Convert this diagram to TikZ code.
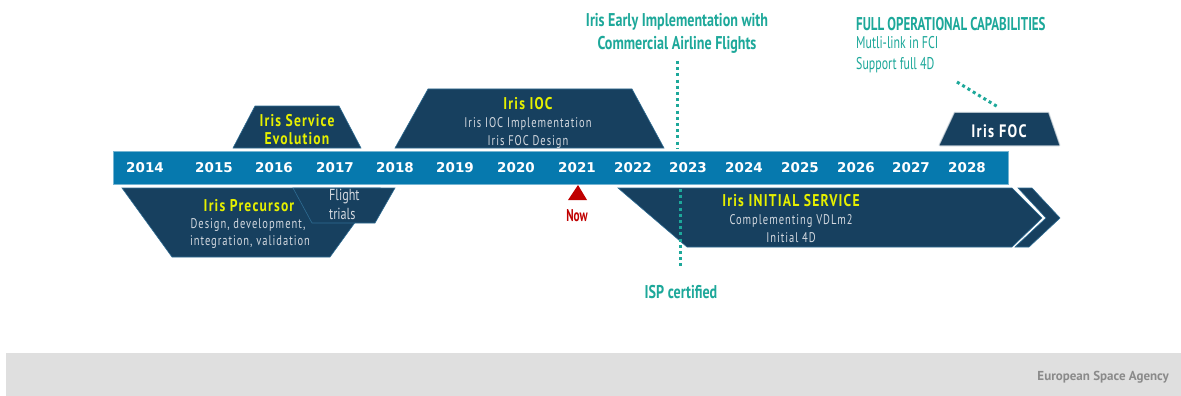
\documentclass[tikz,border=0pt]{standalone}
\usepackage{fontspec}
\setmainfont{DejaVu Sans}
% condensed families at a few widths
\newfontfamily\cond[FakeStretch=0.66]{PT Sans}
\newfontfamily\fTitle[FakeStretch=0.8, LetterSpace=7]{PT Sans}
\newfontfamily\fSub[FakeStretch=0.75, LetterSpace=7]{PT Sans}
\newfontfamily\fWide[FakeStretch=0.76]{PT Sans}
\newfontfamily\fNarrow[FakeStretch=0.7]{PT Sans}
\newfontfamily\fBand{PT Sans}
\usetikzlibrary{calc}

\definecolor{phase}{HTML}{17405F}
\definecolor{phaseedge}{HTML}{2F6D93}
\definecolor{barblue}{HTML}{0679AE}
\definecolor{esateal}{HTML}{1DA89A}
\definecolor{hilite}{HTML}{E6F000}
\definecolor{subtext}{HTML}{D4D9E0}
\definecolor{nowred}{HTML}{C00000}
\definecolor{band}{HTML}{DFDFDF}
\definecolor{bandtext}{HTML}{8A8A8A}

\tikzset{
  phasebox/.style={fill=phase, draw=phaseedge, line width=0.6pt, line join=miter},
  year/.style={text=white, font=\bfseries\fontsize{13.5}{14}\selectfont, inner sep=0pt},
  phasetitle/.style={text=hilite, font=\fTitle\bfseries\fontsize{17}{18}\selectfont, inner sep=0pt, align=center},
  phasetext/.style={text=subtext, font=\fSub\fontsize{14}{17}\selectfont, inner sep=0pt, align=center},
  tealtitle/.style={text=esateal, font=\fWide\bfseries\fontsize{18.5}{23}\selectfont, inner sep=0pt, align=center},
  tealhead/.style={text=esateal, font=\fNarrow\bfseries\fontsize{18.5}{23}\selectfont, inner sep=0pt},
  tealtext/.style={text=esateal, font=\fNarrow\fontsize{17}{21}\selectfont, inner sep=0pt, align=left},
  marker/.style={draw=esateal, line width=3pt, dash pattern=on 3pt off 3.2pt},
}

\begin{document}
\begin{tikzpicture}[x=1pt, y=-1pt]
  \useasboundingbox (0,0) rectangle (1181,396);
  \fill[white] (0,0) rectangle (1181,396);

  % footer band
  \fill[band] (6,353) rectangle (1181,396);
  \node[text=bandtext, font=\fBand\bfseries\fontsize{13}{15}\selectfont, anchor=east, inner sep=0pt]
    (esa) at (1169,377) {European Space Agency};

  % phases above the time bar
  \path[phasebox] (233,148) -- (255,106) -- (339,106) -- (361,148) -- cycle;
  \node[phasetitle] (evol) at (297,130) {Iris Service\\Evolution};

  \path[phasebox] (395,148) -- (428,89) -- (632,89) -- (664,148) -- cycle;
  \node[phasetitle] (ioc) at (528,104) {Iris IOC};
  \node[phasetext] (iocA) at (528,124) {Iris IOC Implementation};
  \node[phasetext] (iocB) at (528,142) {Iris FOC Design};

  % soft-edged FOC block
  \foreach \g/\o in {3/0.10,2/0.18,1/0.3}{
    \path[fill=phase, opacity=\o, draw=phase, line width=\g pt, line join=round]
      (940,145) -- (955,113) -- (1048,113) -- (1059,145) -- cycle;
  }
  \path[fill=phase] (940,145) -- (955,113) -- (1048,113) -- (1059,145) -- cycle;
  \node[text=white, font=\fTitle\bfseries\fontsize{18}{19}\selectfont, inner sep=0pt] (foc) at (999,131) {Iris\ FOC};

  % time bar
  \path[fill=barblue, draw=barblue!55!white, line width=0.6pt] (113,151) rectangle (1008,184);
  \foreach \yr/\xx in {2014/145,2015/214,2016/274,2017/335,2018/395,2019/455,2020/516,
                       2021/577,2022/633,2023/688,2024/744,2025/800,2026/856,2027/911,2028/967}{
    \node[year] (y\yr) at (\xx,168) {\yr};
  }

  % phases below the time bar
  \path[phasebox] (122,188) -- (380,188) -- (330,257) -- (172,257) -- cycle;
  \path[phasebox] (293,188) -- (395,188) -- (375,223) -- (312,223) -- cycle;
  \node[phasetitle] (prec) at (249,206) {Iris Precursor};
  \node[phasetext] (precA) at (248,225) {Design, development,};
  \node[phasetext] (precB) at (250,242) {integration, validation};
  \node[text=subtext, font=\fWide\fontsize{16}{19}\selectfont, inner sep=0pt, align=left, anchor=north west]
    (trials) at (329,189) {Flight\\trials};

  \path[phasebox] (618,188) -- (1012,188) -- (1042,218) -- (1012,247) -- (687,247) -- cycle;
  \path[phasebox] (1018,188) -- (1032,188) -- (1060,218) -- (1029,247) -- (1015,247) -- (1046,218) -- cycle;
  \node[phasetitle] (init) at (791,201) {Iris INITIAL SERVICE};
  \node[phasetext] (initA) at (791,221) {Complementing VDLm2};
  \node[phasetext] (initB) at (791,238) {Initial 4D};

  % current year marker
  \path[fill=nowred] (578,185) -- (587,200) -- (568,200) -- cycle;
  \node[text=nowred, font=\cond\bfseries\fontsize{17}{18}\selectfont, inner sep=0pt] (now) at (577,216) {Now};

  % milestones
  \node[tealtitle] (early) at (677,33) {Iris Early Implementation with\\Commercial Airline Flights};
  \coordinate (earlyTop) at (677,61);
  \coordinate (earlyEnd) at (677,148);
  \draw[marker] (earlyTop) -- (earlyEnd);

  \coordinate (ispTop) at (680,189);
  \coordinate (ispEnd) at (680,267);
  \draw[marker] (ispTop) -- (ispEnd);
  \node[tealtitle] (isp) at (681,292) {ISP certified};

  \node[tealhead, anchor=west] (fullcap) at (856,24) {FULL OPERATIONAL CAPABILITIES};
  \node[tealtext, anchor=north west] (fullcapA) at (856,36) {Mutli-link in FCI\\Support full 4D};
  \coordinate (focA) at (957,82);
  \coordinate (focB) at (998,107);
  \draw[marker] (focA) -- (focB);
\end{tikzpicture}
\end{document}
